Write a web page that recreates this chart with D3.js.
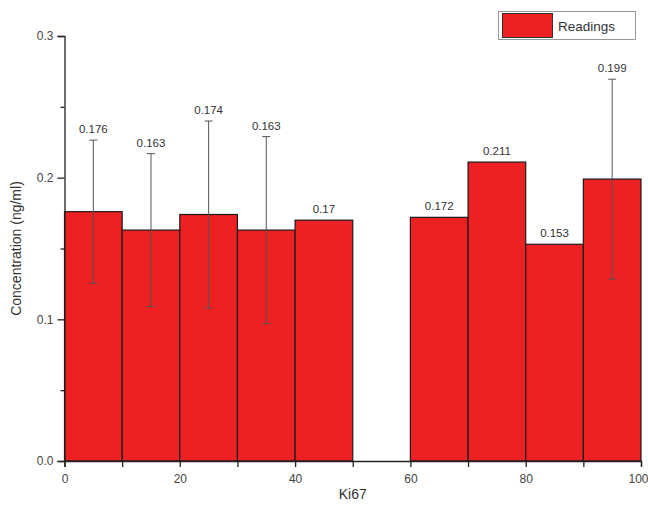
<!DOCTYPE html>
<html><head><meta charset="utf-8">
<script src="https://cdn.jsdelivr.net/npm/d3@7"></script>
<style>body{margin:0;background:#fff;}svg{display:block;font-family:"Liberation Sans",Arial,sans-serif;}</style>
</head><body>
<svg id="c" width="648" height="505"></svg>
<script>
const binStarts = [0, 10, 20, 30, 40, 50, 60, 70, 80, 90];
const binWidth = 10;
const values = [0.176, 0.163, 0.174, 0.163, 0.17, 0, 0.172, 0.211, 0.153, 0.199];
const errors = [0.0505, 0.054, 0.066, 0.066, null, null, null, null, null, 0.0705];
const labels = ["0.176", "0.163", "0.174", "0.163", "0.17", null, "0.172", "0.211", "0.153", "0.199"];
const xTicks = [0, 20, 40, 60, 80, 100];
const xMinor = [10, 30, 50, 70, 90];
const yTicks = [0.0, 0.1, 0.2, 0.3];
const yMinor = [0.05, 0.15, 0.25];

const svg = d3.select("#c");
const x = d3.scaleLinear().domain([0, 100]).range([64.5, 641]);
const y = d3.scaleLinear().domain([0, 0.3]).range([461, 36]);

// bars
svg.append("g").selectAll("rect").data(values.map((v,i)=>({v,i}))).join("rect")
  .filter(d => d.v > 0)
  .attr("x", d => x(binStarts[d.i]))
  .attr("width", d => x(binStarts[d.i] + binWidth) - x(binStarts[d.i]))
  .attr("y", d => y(d.v))
  .attr("height", d => y(0) - y(d.v))
  .attr("fill", "#ed2024")
  .attr("stroke", "#1a1a1a")
  .attr("stroke-width", 1.2);

// error bars
const eg = svg.append("g").attr("stroke", "#555").attr("stroke-width", 1);
values.forEach((v, i) => {
  const e = errors[i];
  if (e == null) return;
  const cx = x(binStarts[i] + binWidth / 2);
  eg.append("line").attr("x1", cx).attr("x2", cx).attr("y1", y(v + e)).attr("y2", y(v - e));
  [v + e, v - e].forEach(t => eg.append("line").attr("x1", cx - 4).attr("x2", cx + 4).attr("y1", y(t)).attr("y2", y(t)));
});

// value labels
values.forEach((v, i) => {
  if (!labels[i]) return;
  const top = errors[i] != null ? v + errors[i] : v;
  svg.append("text").attr("x", x(binStarts[i] + binWidth / 2)).attr("y", y(top) - 7)
    .attr("text-anchor", "middle").attr("font-size", 11.5).attr("fill", "#333").text(labels[i]);
});

// axes
const xAxis = svg.append("g").attr("transform", `translate(0,${y(0)})`)
  .call(d3.axisBottom(x).tickValues(xTicks).tickFormat(d3.format("d")).tickSizeOuter(0).tickSize(6));
svg.append("g").attr("transform", `translate(0,${y(0)})`)
  .call(d3.axisBottom(x).tickValues(xMinor).tickFormat("").tickSizeOuter(0).tickSize(6))
  .select(".domain").remove();
const yAxis = svg.append("g").attr("transform", `translate(${x(0)},0)`)
  .call(d3.axisLeft(y).tickValues(yTicks).tickFormat(d3.format(".1f")).tickSizeOuter(0).tickSize(7));
svg.append("g").attr("transform", `translate(${x(0)},0)`)
  .call(d3.axisLeft(y).tickValues(yMinor).tickFormat("").tickSizeOuter(0).tickSize(4))
  .select(".domain").remove();
svg.selectAll(".domain, .tick line").attr("stroke", "#222").attr("stroke-width", 1.3);
svg.selectAll(".tick text").attr("fill", "#444").attr("font-size", 12).attr("font-family", "Liberation Sans, Arial, sans-serif");
yAxis.selectAll(".tick text").attr("dx", "-1");
xAxis.selectAll(".tick text").attr("dy", "1.1em");
xAxis.selectAll(".tick").filter(d => d === 100).select("text").attr("text-anchor", "end").attr("dx", "7");

// axis titles
svg.append("text").attr("x", x(50)).attr("y", 499).attr("text-anchor", "middle")
  .attr("font-size", 14).attr("fill", "#333").text("Ki67");
svg.append("text").attr("transform", `translate(21,${y(0.15)}) rotate(-90)`).attr("text-anchor", "middle")
  .attr("font-size", 14).attr("fill", "#333").text("Concentration (ng/ml)");

// legend
const lg = svg.append("g");
lg.append("rect").attr("x", 498.5).attr("y", 11.5).attr("width", 137).attr("height", 28)
  .attr("fill", "#fff").attr("stroke", "#999").attr("stroke-width", 1);
lg.append("rect").attr("x", 502.5).attr("y", 13.5).attr("width", 50).attr("height", 24)
  .attr("fill", "#ed2024").attr("stroke", "#333").attr("stroke-width", 1);
lg.append("text").attr("x", 558).attr("y", 31).attr("font-size", 13.5).attr("fill", "#333").text("Readings");
</script>
</body></html>
